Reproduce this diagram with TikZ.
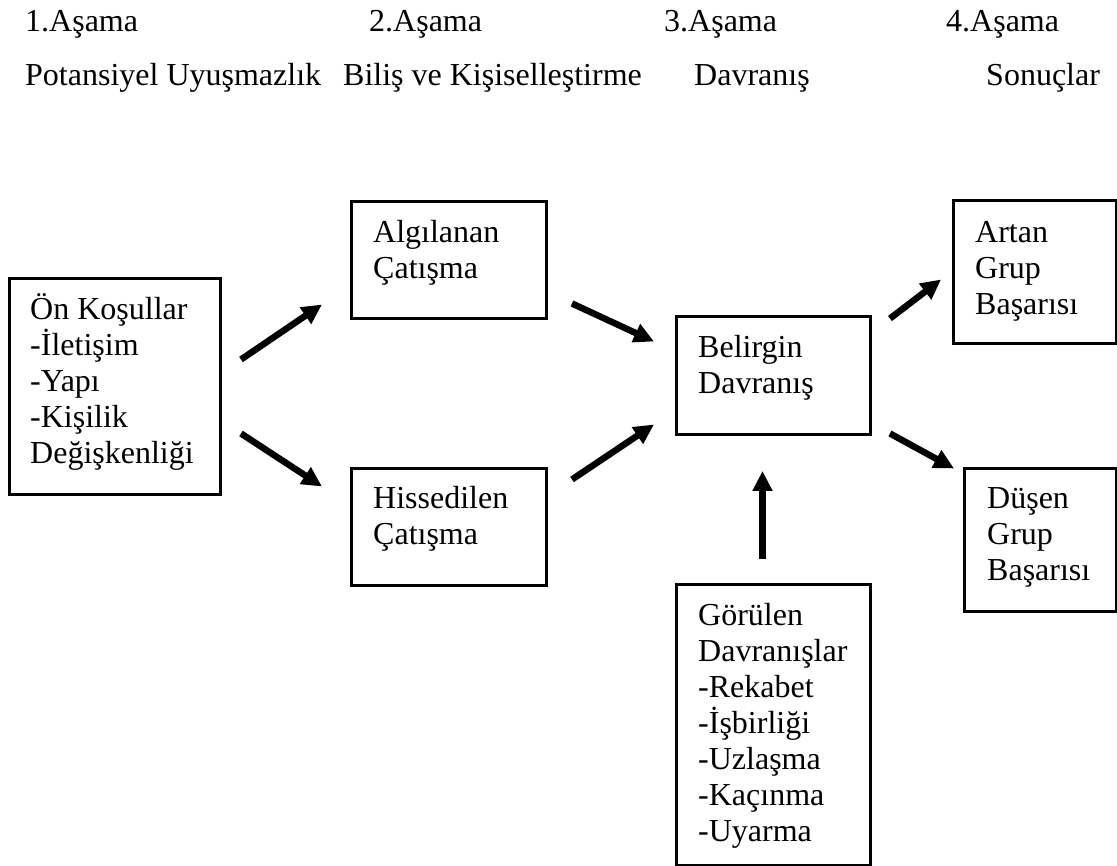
\documentclass[tikz,border=0pt]{standalone}
\usepackage{fontspec}
\setmainfont{Liberation Serif}
\usetikzlibrary{arrows.meta}
\newcommand{\tp}{\rule{0pt}{28pt}}
\lineskiplimit=-100pt
\tikzset{
  box/.style={draw, line width=3pt, anchor=north west, inner sep=0pt},
  txt/.style={anchor=north west, inner sep=0pt, align=left,
    font=\fontsize{32}{36}\selectfont},
  hdr/.style={anchor=base west, inner sep=0pt, font=\fontsize{32}{36}\selectfont},
  arr/.style={line width=6.5pt, -{Triangle[length=20pt,width=19pt]}},
}
\begin{document}
\begin{tikzpicture}[x=1pt,y=-1pt]
\useasboundingbox[fill=white] (0,0) rectangle (1117,866);
% headers
\node[hdr] (h1) at (25,32) {1.Aşama};
\node[hdr] (h2) at (369,32) {2.Aşama};
\node[hdr] (h3) at (664,32) {3.Aşama};
\node[hdr] (h4) at (946,32) {4.Aşama};
\node[hdr] (s1) at (25,86) {Potansiyel Uyuşmazlık};
\node[hdr] (s2) at (343,86) {Biliş ve Kişiselleştirme};
\node[hdr] (s3) at (694,86) {Davranış};
\node[hdr] (s4) at (986,86) {Sonuçlar};
% boxes
\node[box, minimum width=211pt, minimum height=216pt] (on) at (8,277) {};
\node[box, minimum width=195pt, minimum height=117pt] (alg) at (350,200) {};
\node[box, minimum width=195pt, minimum height=117pt] (his) at (350,467) {};
\node[box, minimum width=194pt, minimum height=118pt] (bel) at (675,315) {};
\node[box, minimum width=163pt, minimum height=143pt] (art) at (952,199) {};
\node[box, minimum width=152pt, minimum height=143pt] (dus) at (963,467) {};
\node[box, minimum width=194pt, minimum height=281pt] (gor) at (675,583) {};
% texts
\node[txt] (ont) at (30,291) {\tp Ön Koşullar\\-İletişim\\-Yapı\\-Kişilik\\Değişkenliği};
\node[txt] (algt) at (373,214) {\tp Algılanan\\Çatışma};
\node[txt] (hist) at (373,480) {\tp Hissedilen\\Çatışma};
\node[txt] (belt) at (698,329) {\tp Belirgin\\Davranış};
\node[txt] (artt) at (975,214) {\tp Artan\\Grup\\Başarısı};
\node[txt] (dust) at (987,480) {\tp Düşen\\Grup\\Başarısı};
\node[txt] (gort) at (698,597) {\tp Görülen\\Davranışlar\\-Rekabet\\-İşbirliği\\-Uzlaşma\\-Kaçınma\\-Uyarma};
% arrows
\draw[arr] ([xshift=19pt,yshift=27pt]on.east) -- ([xshift=-28pt,yshift=-44.5pt]alg.west);
\draw[arr] ([xshift=19pt,yshift=-47pt]on.east) -- ([xshift=-28pt,yshift=40.5pt]his.west);
\draw[arr] ([xshift=24pt,yshift=-43.5pt]alg.east) -- ([xshift=-21pt,yshift=34pt]bel.west);
\draw[arr] ([xshift=24pt,yshift=47.5pt]his.east) -- ([xshift=-21pt,yshift=-49pt]bel.west);
\draw[arr] ([xshift=18pt,yshift=57pt]bel.east) -- ([xshift=-11pt,yshift=-7.5pt]art.west);
\draw[arr] ([xshift=18pt,yshift=-58pt]bel.east) -- ([xshift=-9pt,yshift=71.5pt]dus.west);
\draw[arr] ([xshift=-11pt,yshift=24pt]gor.north) -- ([xshift=-11pt,yshift=-35pt]bel.south);
\end{tikzpicture}
\end{document}
